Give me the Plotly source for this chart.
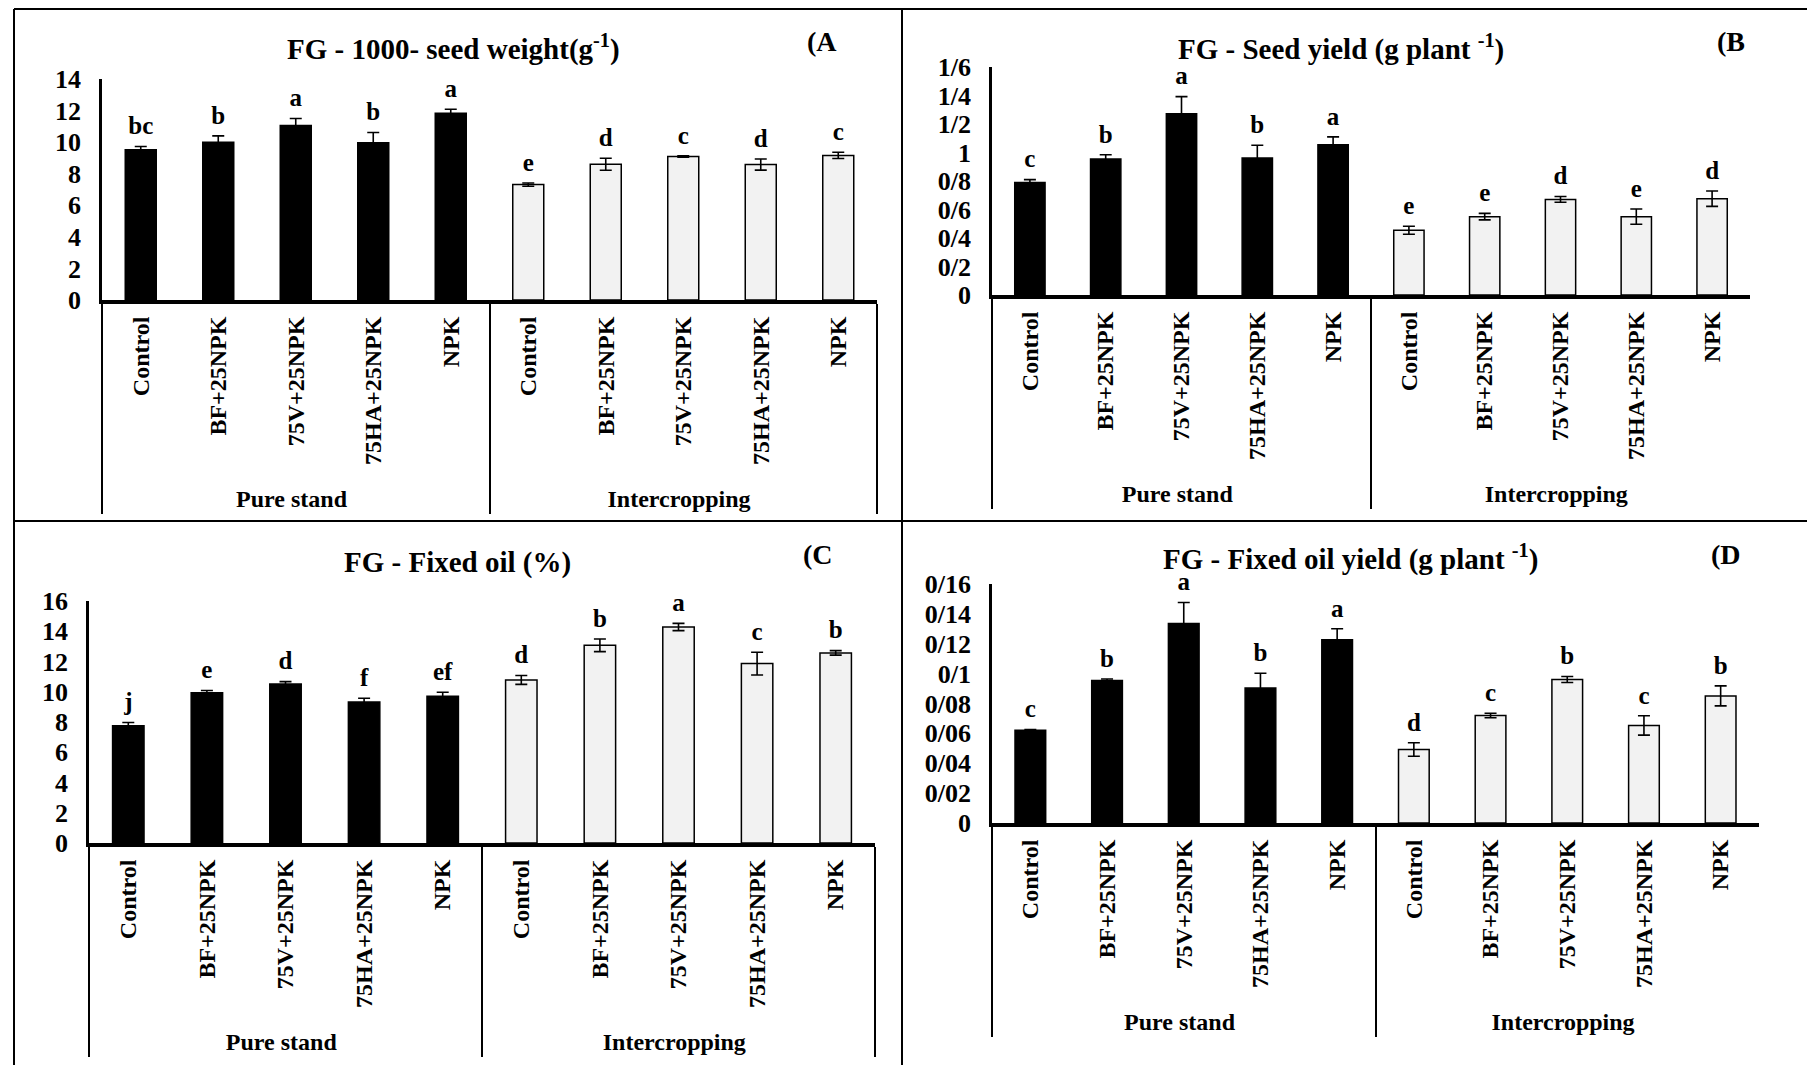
import plotly.graph_objects as go

W, H = 1807, 1065

groups = ["Pure stand", "Intercropping"]
treatments = ["Control", "BF+25NPK", "75V+25NPK", "75HA+25NPK", "NPK"]

# Panel A: 1000-seed weight
a_pure = [9.52, 10.0, 11.05, 9.96, 11.83]
a_pure_err = [0.2, 0.4, 0.45, 0.65, 0.25]
a_inter = [7.31, 8.60, 9.09, 8.58, 9.16]
a_inter_err = [0.1, 0.38, 0.04, 0.35, 0.2]
a_pure_let = ["bc", "b", "a", "b", "a"]
a_inter_let = ["e", "d", "c", "d", "c"]
a_tickvals = [0, 2, 4, 6, 8, 10, 12, 14]
a_ticktext = ["0", "2", "4", "6", "8", "10", "12", "14"]

# Panel B: seed yield
b_pure = [0.79, 0.954, 1.272, 0.961, 1.055]
b_pure_err = [0.02, 0.03, 0.12, 0.09, 0.055]
b_inter = [0.454, 0.55, 0.671, 0.55, 0.676]
b_inter_err = [0.028, 0.023, 0.02, 0.054, 0.054]
b_pure_let = ["c", "b", "a", "b", "a"]
b_inter_let = ["e", "e", "d", "e", "d"]
b_tickvals = [0, 0.2, 0.4, 0.6, 0.8, 1.0, 1.2, 1.4, 1.6]
b_ticktext = ["0", "0/2", "0/4", "0/6", "0/8", "1", "1/2", "1/4", "1/6"]

# Panel C: fixed oil %
c_pure = [7.75, 9.93, 10.52, 9.33, 9.71]
c_pure_err = [0.22, 0.15, 0.15, 0.24, 0.26]
c_inter = [10.78, 13.07, 14.28, 11.86, 12.57]
c_inter_err = [0.29, 0.42, 0.24, 0.75, 0.15]
c_pure_let = ["j", "e", "d", "f", "ef"]
c_inter_let = ["d", "b", "a", "c", "b"]
c_tickvals = [0, 2, 4, 6, 8, 10, 12, 14, 16]
c_ticktext = ["0", "2", "4", "6", "8", "10", "12", "14", "16"]

# Panel D: fixed oil yield
d_pure = [0.0621, 0.0954, 0.1336, 0.0903, 0.1227]
d_pure_err = [0.0005, 0.001, 0.014, 0.01, 0.0073]
d_inter = [0.0492, 0.072, 0.0961, 0.0653, 0.0851]
d_inter_err = [0.0045, 0.0015, 0.002, 0.0065, 0.0067]
d_pure_let = ["c", "b", "a", "b", "a"]
d_inter_let = ["d", "c", "b", "c", "b"]
d_tickvals = [0, 0.02, 0.04, 0.06, 0.08, 0.10, 0.12, 0.14, 0.16]
d_ticktext = ["0", "0/02", "0/04", "0/06", "0/08", "0/1", "0/12", "0/14", "0/16"]

titles = [
    "FG - 1000- seed weight(g<sup>-1</sup>)",
    "FG - Seed yield (g plant <sup>-1</sup>)",
    "FG - Fixed oil (%)",
    "FG - Fixed oil yield (g plant <sup>-1</sup>)",
]
tags = ["(A", "(B", "(C", "(D"]

FONT = "Liberation Serif"

panels = [
    dict(pure=a_pure, pe=a_pure_err, inter=a_inter, ie=a_inter_err, pl=a_pure_let, il=a_inter_let,
         tv=a_tickvals, tt=a_ticktext, rng=[0, 14],
         xd=[102, 877], yd=[79, 300], title=(453, 47), tag=(822, 42)),
    dict(pure=b_pure, pe=b_pure_err, inter=b_inter, ie=b_inter_err, pl=b_pure_let, il=b_inter_let,
         tv=b_tickvals, tt=b_ticktext, rng=[0, 1.6],
         xd=[992, 1750], yd=[67, 295], title=(1341, 47), tag=(1731, 42)),
    dict(pure=c_pure, pe=c_pure_err, inter=c_inter, ie=c_inter_err, pl=c_pure_let, il=c_inter_let,
         tv=c_tickvals, tt=c_ticktext, rng=[0, 16],
         xd=[89, 875], yd=[601, 843], title=(457, 562), tag=(818, 554)),
    dict(pure=d_pure, pe=d_pure_err, inter=d_inter, ie=d_inter_err, pl=d_pure_let, il=d_inter_let,
         tv=d_tickvals, tt=d_ticktext, rng=[0, 0.16],
         xd=[992, 1759], yd=[584, 823], title=(1350, 557), tag=(1726, 554)),
]

fig = go.Figure()
layout = dict(
    width=W, height=H, margin=dict(l=0, r=0, t=0, b=0, autoexpand=False),
    paper_bgcolor="white", plot_bgcolor="white",
    showlegend=False, bargap=0.6, barmode="group",
    font=dict(family=FONT, color="black"),
)
annotations = []

for i, p in enumerate(panels):
    n = "" if i == 0 else str(i + 1)
    xa, ya = "x" + n, "y" + n
    for g, vals, errs, lets, col in [
        (groups[0], p["pure"], p["pe"], p["pl"], "black"),
        (groups[1], p["inter"], p["ie"], p["il"], "#f2f2f2"),
    ]:
        xcat = [[g] * len(treatments), treatments]
        fig.add_trace(go.Bar(
            x=xcat, y=vals, xaxis=xa, yaxis=ya,
            marker=dict(color=col, line=dict(color="black", width=1.5)),
            error_y=dict(type="data", array=errs, visible=True, color="black", thickness=1.6, width=6),
            hoverinfo="skip", width=0.4,
        ))
        fig.add_trace(go.Scatter(
            x=xcat, y=[v + e for v, e in zip(vals, errs)], xaxis=xa, yaxis=ya,
            mode="markers+text", text=lets, textposition="top center",
            marker=dict(size=8, opacity=0), hoverinfo="skip", cliponaxis=False,
            textfont=dict(family=FONT, size=25, color="black", weight="bold"),
        ))
    x0, x1 = p["xd"]
    y0, y1 = p["yd"]
    layout["xaxis" + n] = dict(
        domain=[x0 / W, x1 / W], anchor=ya, type="multicategory",
        range=[-0.5, 9.5], automargin=False,
        showline=True, linecolor="black", linewidth=4, ticks="",
        showgrid=False, zeroline=False, tickangle=-90,
        tickfont=dict(family=FONT, size=24, color="black", weight="bold"),
        showdividers=True, dividercolor="black", dividerwidth=2,
        ticklabelstandoff=3,
    )
    layout["yaxis" + n] = dict(
        domain=[1 - y1 / H, 1 - y0 / H], anchor=xa, range=p["rng"], automargin=False,
        showline=True, linecolor="black", linewidth=2.5, ticks="",
        showgrid=False, zeroline=False,
        tickvals=p["tv"], ticktext=p["tt"],
        tickfont=dict(family=FONT, size=26, color="black", weight="bold"),
        ticklabelstandoff=13,
    )
    tx, ty = p["title"]
    annotations.append(dict(
        x=tx / W, y=1 - ty / H, xref="paper", yref="paper", text="<b>" + titles[i] + "</b>",
        showarrow=False, xanchor="center", yanchor="middle",
        font=dict(family=FONT, size=29, color="black"),
    ))
    gx, gy = p["tag"]
    annotations.append(dict(
        x=gx / W, y=1 - gy / H, xref="paper", yref="paper", text="<b>" + tags[i] + "</b>",
        showarrow=False, xanchor="center", yanchor="middle",
        font=dict(family=FONT, size=28, color="black"),
    ))

layout["annotations"] = annotations

# panel frame lines
frame = [
    (14 / W, 1 - 9 / H, 1.0, 1 - 9 / H),
    (14 / W, 1 - 9 / H, 14 / W, 0.0),
    (902 / W, 1 - 9 / H, 902 / W, 0.0),
    (14 / W, 1 - 521 / H, 1.0, 1 - 521 / H),
]
layout["shapes"] = [
    dict(type="line", xref="paper", yref="paper", x0=a, y0=b, x1=c, y1=d,
         line=dict(color="black", width=2))
    for a, b, c, d in frame
]

fig.update_layout(**layout)
fig.write_html("out.html")
